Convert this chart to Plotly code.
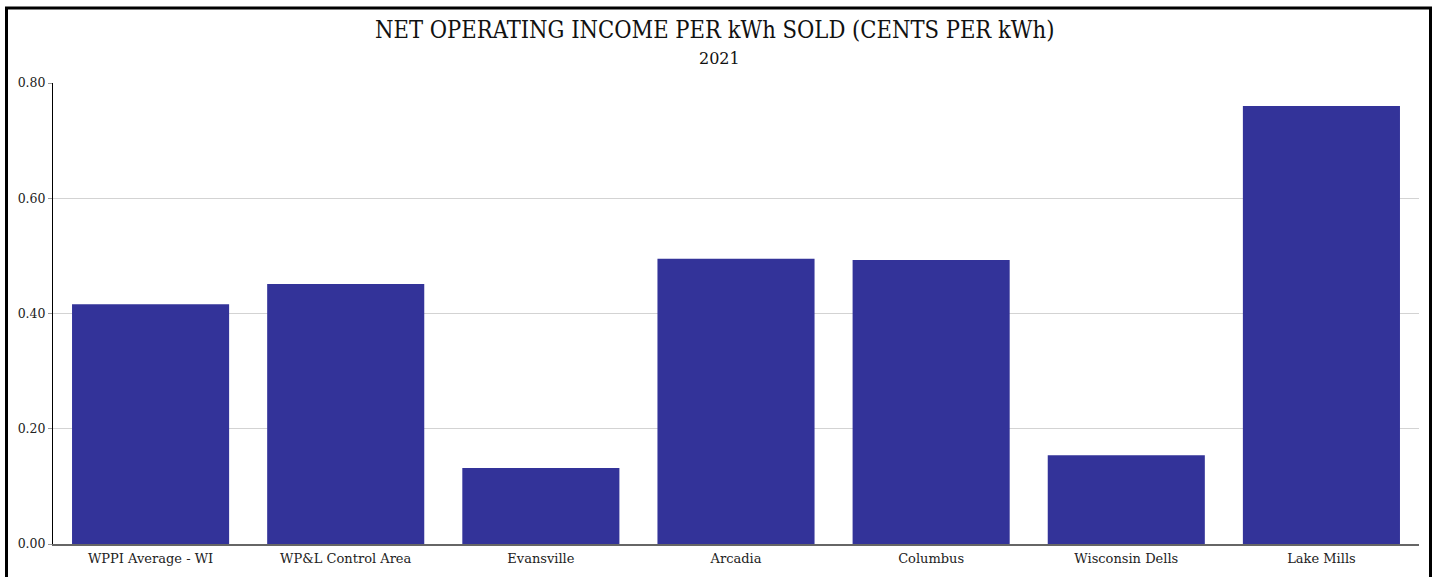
import plotly.graph_objects as go

categories = ["WPPI Average - WI", "WP&L Control Area", "Evansville", "Arcadia",
              "Columbus", "Wisconsin Dells", "Lake Mills"]
values = [0.416, 0.451, 0.132, 0.495, 0.493, 0.154, 0.760]
tick_vals = [0.0, 0.2, 0.4, 0.6, 0.8]
tick_text = ["0.00", "0.20", "0.40", "0.60", "0.80"]

W, H = 1435, 577
ML, MR, MT, MB = 53, 16, 83, 33
pw, ph = W - ML - MR, H - MT - MB


def px_x(x):
    return (x - ML) / pw


def px_y(y):
    return (H - MB - y) / ph


fig = go.Figure(go.Bar(
    x=categories, y=values,
    marker=dict(color="#333399", line=dict(width=0)),
    hoverinfo="x+y",
))

fig.update_layout(
    width=W, height=H,
    margin=dict(l=ML, r=MR, t=MT, b=MB, autoexpand=False),
    paper_bgcolor="white", plot_bgcolor="white",
    bargap=0.195,
    showlegend=False,
    font=dict(family="DejaVu Serif", color="#222"),
    annotations=[
        dict(text="NET OPERATING INCOME PER kWh SOLD (CENTS PER kWh)",
             xref="paper", yref="paper", x=px_x(714.5), y=px_y(30),
             xanchor="center", yanchor="middle", showarrow=False,
             font=dict(family="DejaVu Serif Condensed", size=23.5, color="#111")),
        dict(text="2021",
             xref="paper", yref="paper", x=px_x(719), y=px_y(58),
             xanchor="center", yanchor="middle", showarrow=False,
             font=dict(family="DejaVu Serif", size=16, color="#111")),
    ],
    shapes=[
        dict(type="rect", xref="paper", yref="paper",
             x0=px_x(6.5), x1=px_x(1430.5), y0=px_y(600), y1=px_y(8),
             line=dict(color="black", width=3), fillcolor="rgba(0,0,0,0)",
             layer="above"),
    ],
)

fig.update_xaxes(
    showgrid=False, showline=True, linecolor="#666", linewidth=2,
    ticks="", ticklabelstandoff=1, automargin=False,
    tickfont=dict(family="DejaVu Serif", size=13, color="#222"),
)
fig.update_yaxes(
    range=[0, 0.8], tickvals=tick_vals, ticktext=tick_text,
    showgrid=True, gridcolor="#d3d3d3", gridwidth=1,
    showline=True, linecolor="black", linewidth=1,
    ticks="outside", ticklen=4, tickcolor="#999",
    zeroline=False, automargin=False,
    tickfont=dict(family="DejaVu Serif", size=12.5, color="#222"),
)

fig.write_html("out.html")
